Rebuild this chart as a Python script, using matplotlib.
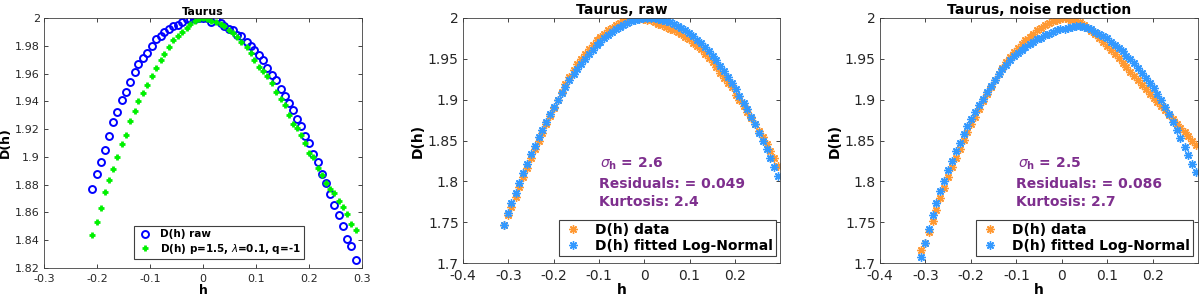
import matplotlib
matplotlib.use("Agg")
import matplotlib.pyplot as plt

plt.rcParams['font.family'] = ['DejaVu Sans']
plt.rcParams['axes.unicode_minus'] = False

# ---------------- Panel 1 data ----------------
p1_h = [-0.209, -0.201, -0.193, -0.185, -0.177, -0.169, -0.162, -0.153, -0.145, -0.137,
        -0.129, -0.122, -0.114, -0.105, -0.097, -0.088, -0.080, -0.073, -0.064, -0.056,
        -0.048, -0.040, -0.031, -0.024, -0.016, -0.008, 0.000, 0.008, 0.015, 0.025,
        0.033, 0.040, 0.049, 0.057, 0.064, 0.072, 0.082, 0.090, 0.097, 0.106,
        0.114, 0.121, 0.130, 0.138, 0.147, 0.155, 0.162, 0.170, 0.178, 0.185,
        0.193, 0.200, 0.208, 0.216, 0.224, 0.232, 0.240, 0.248, 0.256, 0.264,
        0.272, 0.279, 0.288]
p1_raw = [1.877, 1.888, 1.896, 1.905, 1.915, 1.925, 1.932, 1.941, 1.947, 1.954,
          1.961, 1.967, 1.971, 1.975, 1.980, 1.985, 1.987, 1.990, 1.992, 1.994,
          1.995, 1.997, 1.999, 1.9995, 1.9995, 2.000, 2.000, 2.000, 1.997, 1.999,
          1.9965, 1.994, 1.992, 1.991, 1.988, 1.987, 1.983, 1.980, 1.977, 1.973,
          1.970, 1.964, 1.959, 1.955, 1.949, 1.944, 1.939, 1.934, 1.927, 1.922,
          1.915, 1.910, 1.902, 1.896, 1.888, 1.881, 1.873, 1.865, 1.858, 1.850,
          1.841, 1.836, 1.826]
p1_model = [1.844, 1.853, 1.863, 1.875, 1.883, 1.891, 1.900, 1.909, 1.916, 1.926,
            1.933, 1.940, 1.946, 1.952, 1.958, 1.964, 1.970, 1.974, 1.979, 1.984,
            1.987, 1.990, 1.993, 1.996, 1.998, 1.999, 2.000, 1.9993, 1.998, 1.997,
            1.996, 1.994, 1.9915, 1.989, 1.986, 1.983, 1.979, 1.975, 1.970, 1.965,
            1.962, 1.958, 1.953, 1.947, 1.942, 1.937, 1.930, 1.924, 1.921, 1.916,
            1.910, 1.903, 1.8997, 1.892, 1.887, 1.881, 1.877, 1.874, 1.868, 1.864,
            1.859, 1.852, 1.847]

# ---------------- Panels 2 & 3 data ----------------
h_grid = [-0.310, -0.301, -0.293, -0.284, -0.276, -0.267, -0.259, -0.250, -0.242, -0.233,
          -0.225, -0.216, -0.208, -0.199, -0.191, -0.182, -0.174, -0.165, -0.156, -0.148,
          -0.139, -0.131, -0.122, -0.114, -0.105, -0.097, -0.088, -0.080, -0.071, -0.063,
          -0.054, -0.046, -0.037, -0.029, -0.020, -0.011, -0.003, 0.006, 0.014, 0.023,
          0.031, 0.040, 0.048, 0.057, 0.065, 0.074, 0.082, 0.091, 0.099, 0.108,
          0.117, 0.125, 0.134, 0.142, 0.151, 0.159, 0.168, 0.176, 0.185, 0.193,
          0.202, 0.210, 0.219, 0.227, 0.236, 0.244, 0.253, 0.261, 0.270, 0.278,
          0.287, 0.295]

raw_data = [1.747, 1.759, 1.769, 1.781, 1.793, 1.805, 1.816, 1.828, 1.839, 1.850,
            1.859, 1.870, 1.880, 1.890, 1.900, 1.910, 1.919, 1.928, 1.936, 1.944,
            1.950, 1.956, 1.962, 1.967, 1.973, 1.977, 1.981, 1.985, 1.988, 1.991,
            1.994, 1.996, 1.998, 1.999, 2.000, 2.000, 1.999, 1.998, 1.997, 1.995,
            1.993, 1.991, 1.989, 1.987, 1.985, 1.983, 1.980, 1.977, 1.974, 1.970,
            1.966, 1.962, 1.956, 1.951, 1.946, 1.940, 1.933, 1.927, 1.921, 1.915,
            1.906, 1.899, 1.892, 1.885, 1.877, 1.870, 1.862, 1.854, 1.846, 1.837,
            1.828, 1.819]
raw_fit = [1.747, 1.761, 1.773, 1.786, 1.798, 1.810, 1.821, 1.833, 1.843, 1.854,
           1.863, 1.873, 1.882, 1.891, 1.899, 1.908, 1.916, 1.924, 1.931, 1.938,
           1.944, 1.950, 1.956, 1.961, 1.967, 1.971, 1.976, 1.979, 1.983, 1.986,
           1.989, 1.992, 1.994, 1.996, 1.9975, 1.9987, 1.9995, 1.9999, 2.000, 1.9997,
           1.9991, 1.9981, 1.9969, 1.9951, 1.9932, 1.9907, 1.9881, 1.985, 1.982, 1.978,
           1.973, 1.969, 1.964, 1.959, 1.953, 1.948, 1.941, 1.935, 1.928, 1.921,
           1.913, 1.905, 1.896, 1.888, 1.879, 1.870, 1.859, 1.850, 1.839, 1.829,
           1.817, 1.806]

nr_data = [1.716, 1.725, 1.738, 1.751, 1.765, 1.779, 1.792, 1.805, 1.817, 1.829,
           1.840, 1.851, 1.861, 1.870, 1.879, 1.889, 1.898, 1.907, 1.916, 1.924,
           1.932, 1.939, 1.946, 1.952, 1.958, 1.963, 1.968, 1.973, 1.977, 1.981,
           1.985, 1.988, 1.991, 1.994, 1.996, 1.998, 1.999, 2.000, 1.999, 1.998,
           1.997, 1.995, 1.992, 1.988, 1.984, 1.980, 1.976, 1.971, 1.966, 1.961,
           1.956, 1.951, 1.945, 1.940, 1.934, 1.929, 1.924, 1.918, 1.913, 1.907,
           1.902, 1.897, 1.892, 1.887, 1.881, 1.876, 1.870, 1.865, 1.860, 1.855,
           1.850, 1.845]
nr_fit = [1.707, 1.725, 1.742, 1.759, 1.773, 1.788, 1.801, 1.814, 1.825, 1.837,
          1.847, 1.858, 1.868, 1.876, 1.885, 1.893, 1.901, 1.909, 1.917, 1.924,
          1.931, 1.937, 1.943, 1.948, 1.953, 1.957, 1.961, 1.965, 1.968, 1.971,
          1.974, 1.976, 1.979, 1.981, 1.983, 1.985, 1.986, 1.987, 1.988, 1.989,
          1.990, 1.990, 1.989, 1.988, 1.986, 1.983, 1.981, 1.978, 1.975, 1.971,
          1.967, 1.963, 1.959, 1.954, 1.950, 1.945, 1.939, 1.933, 1.927, 1.921,
          1.914, 1.907, 1.899, 1.891, 1.882, 1.873, 1.863, 1.853, 1.842, 1.832,
          1.821, 1.811]

titles = ["Taurus", "Taurus, raw", "Taurus, noise reduction"]
p1_labels = ["D(h) raw", r"D(h) p=1.5, $\lambda$=0.1, q=-1"]
fit_labels = ["D(h) data", "D(h) fitted Log-Normal"]
stats = [("2.6", "0.049", "2.4"), ("2.5", "0.086", "2.7")]

p1_xticks = [-0.3, -0.2, -0.1, 0, 0.1, 0.2, 0.3]
p1_yticks = [1.82, 1.84, 1.86, 1.88, 1.9, 1.92, 1.94, 1.96, 1.98, 2]
p23_xticks = [-0.4, -0.3, -0.2, -0.1, 0, 0.1, 0.2]
p23_yticks = [1.7, 1.75, 1.8, 1.85, 1.9, 1.95, 2]

TXT = '#262626'
ORANGE = '#FF9933'
BLUE = '#3399FF'
PURPLE = '#7E2F8E'
AST = (8, 2, 0)

fig = plt.figure(figsize=(12, 3.02), dpi=100)
ax1 = fig.add_axes([0.0367, 0.1126, 0.265, 0.8278])
ax2 = fig.add_axes([0.3858, 0.1291, 0.2642, 0.8113])
ax3 = fig.add_axes([0.7333, 0.1291, 0.265, 0.8113])


def fmt(v):
    return ('%g' % v)


def style(ax, fs, xt, yt, xpad, ypad):
    ax.set_xticks(xt)
    ax.set_yticks(yt)
    ax.set_xticklabels([fmt(v) for v in xt])
    ax.set_yticklabels([fmt(v) for v in yt])
    ax.tick_params(direction='in', top=True, right=True, length=3, width=0.6,
                   colors=TXT, labelsize=fs)
    ax.tick_params(axis='x', pad=xpad)
    ax.tick_params(axis='y', pad=ypad)
    for s in ax.spines.values():
        s.set_color('#404040')
        s.set_linewidth(0.6)


# Panel 1
ax1.plot(p1_h, p1_raw, 'o', ls='none', color='#0000FF', mfc='none', ms=5, mew=1.4,
         label=p1_labels[0])
ax1.plot(p1_h, p1_model, '+', ls='none', color='#00F000', ms=5, mew=2.0,
         label=p1_labels[1])
ax1.set_xlim(-0.3, 0.3)
ax1.set_ylim(1.82, 2.0)
style(ax1, 8, p1_xticks, p1_yticks, 4, 3)
ax1.set_title(titles[0], fontsize=8, fontweight='bold', pad=2.5)
ax1.set_xlabel('h', fontsize=9, fontweight='bold', labelpad=0)
ax1.set_ylabel('D(h)', fontsize=9, fontweight='bold', labelpad=2)
leg = ax1.legend(loc='lower left', bbox_to_anchor=(0.283, 0.036), borderaxespad=0,
                 prop={'weight': 'bold', 'size': 7.5}, fancybox=False, framealpha=1,
                 edgecolor='#404040', handletextpad=0.7, borderpad=0.3,
                 labelspacing=0.25, handlelength=1.5)
leg.get_frame().set_linewidth(0.8)

# Panels 2 and 3
for ax, title, data, fit, st in [(ax2, titles[1], raw_data, raw_fit, stats[0]),
                                 (ax3, titles[2], nr_data, nr_fit, stats[1])]:
    ax.plot(h_grid, data, marker=AST, ls='none', color=ORANGE, ms=6, mew=1.0,
            label=fit_labels[0])
    ax.plot(h_grid, fit, marker=AST, ls='none', color=BLUE, ms=6, mew=1.0,
            label=fit_labels[1])
    ax.set_xlim(-0.4, 0.2995)
    ax.set_ylim(1.7, 2.0)
    style(ax, 10, p23_xticks, p23_yticks, 4, 3)
    ax.set_title(title, fontsize=10, fontweight='bold', pad=3)
    ax.set_xlabel('h', fontsize=10, fontweight='bold', labelpad=0)
    ax.set_ylabel('D(h)', fontsize=10, fontweight='bold', labelpad=2)
    ax.text(-0.097, 1.822, r'$\sigma_{\mathbf{h}}$ = ' + st[0], color=PURPLE,
            fontsize=10, fontweight='bold', va='center')
    ax.text(-0.1, 1.797, 'Residuals: = ' + st[1], color=PURPLE, fontsize=10,
            fontweight='bold', va='center')
    ax.text(-0.1, 1.775, 'Kurtosis: ' + st[2], color=PURPLE, fontsize=10,
            fontweight='bold', va='center')
    lg = ax.legend(loc='lower left', bbox_to_anchor=(0.303, 0.03), borderaxespad=0,
                   prop={'weight': 'bold', 'size': 10}, fancybox=False, framealpha=1,
                   edgecolor='#404040', handletextpad=0.8, borderpad=0.2,
                   labelspacing=0.15, handlelength=1.6)
    lg.get_frame().set_linewidth(0.8)

fig.savefig('out.png', dpi=100)
